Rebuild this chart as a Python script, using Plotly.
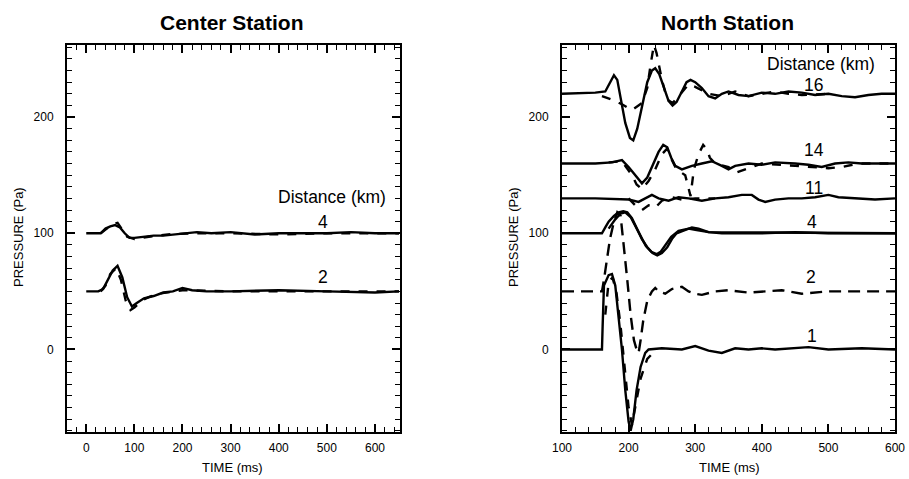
import plotly.graph_objects as go

# ---------------- data ----------------
# Center station
c4_t = [0, 30, 40, 50, 60, 70, 80, 90, 100, 120, 140, 160, 180, 200, 230, 260, 300, 350, 400, 450, 500, 550, 600, 650]
c4_v = [100, 100, 104, 106, 107, 105, 100, 96, 96, 97, 98, 98, 99, 100, 101, 100, 101, 99, 100, 100, 100, 101, 100, 100]
c4b_t = [30, 45, 55, 65, 75, 85, 100, 130, 170, 220, 300, 400, 500, 650]
c4b_v = [100, 105, 108, 109, 103, 97, 95, 97, 99, 100, 100, 99, 100, 100]

c2_t = [0, 25, 35, 45, 55, 65, 75, 85, 95, 105, 120, 140, 160, 180, 200, 220, 250, 300, 400, 500, 600, 650]
c2_v = [50, 50, 52, 60, 68, 72, 62, 45, 37, 40, 44, 46, 49, 50, 53, 51, 50, 50, 51, 50, 49, 50]
c2b_t = [30, 40, 50, 62, 72, 82, 92, 100, 115, 130, 150, 200, 300, 450, 650]
c2b_v = [50, 55, 65, 70, 60, 42, 34, 36, 42, 45, 48, 51, 50, 50, 50]

# North station
n1_t = [100, 160, 161, 163, 170, 175, 180, 185, 190, 195, 200, 203, 207, 212, 218, 225, 230, 250, 280, 300, 320, 340, 360, 380, 400, 420, 450, 470, 500, 550, 600]
n1_v = [0, 0, 20, 55, 64, 65, 55, 30, 0, -35, -62, -70, -60, -35, -15, -3, 0, 1, 0, 3, -1, -3, 1, 0, 1, 0, 1, 2, 0, 1, 0]
n1b_t = [165, 170, 176, 182, 188, 195, 200, 205, 210, 218, 228, 235]
n1b_v = [30, 58, 62, 48, 20, -20, -50, -65, -50, -25, -8, -4]

n2_t = [100, 160, 163, 168, 172, 178, 183, 188, 193, 198, 203, 208, 212, 215, 218, 222, 228, 235, 240, 245, 255, 265, 280, 290, 300, 310, 330, 350, 380, 400, 430, 460, 500, 550, 600]
n2_v = [50, 50, 60, 80, 95, 110, 118, 115, 90, 60, 30, 8, 0, -3, 8, 25, 42, 50, 53, 50, 48, 52, 54, 50, 48, 47, 50, 51, 49, 50, 51, 48, 50, 50, 50]

n4_t = [100, 160, 165, 170, 178, 185, 192, 198, 205, 212, 220, 228, 236, 243, 250, 258, 265, 272, 285, 295, 305, 320, 340, 400, 450, 500, 550, 600]
n4_v = [100, 100, 105, 110, 115, 118, 119, 118, 113, 104, 95, 88, 83, 81, 83, 88, 95, 100, 103, 105, 104, 101, 100, 100, 101, 100, 100, 100]
n4b_t = [170, 180, 188, 195, 203, 210, 218, 226, 234, 242, 248, 256, 264, 275, 290, 300, 320, 600]
n4b_v = [104, 112, 117, 118, 114, 106, 97, 89, 84, 82, 84, 90, 97, 102, 104, 103, 101, 100]

n11_t = [100, 150, 200, 215, 225, 235, 245, 260, 275, 290, 310, 330, 350, 370, 385, 395, 405, 420, 440, 460, 480, 500, 515, 540, 570, 600]
n11_v = [130, 130, 129, 127, 130, 133, 130, 128, 131, 130, 128, 130, 131, 133, 133, 129, 127, 129, 130, 130, 131, 133, 131, 130, 129, 130]
n11b_t = [200, 210, 220, 230, 240, 250, 265, 280, 300, 330]
n11b_v = [130, 124, 120, 124, 122, 128, 131, 129, 130, 130]

n14_t = [100, 150, 175, 190, 200, 210, 220, 228, 236, 245, 252, 258, 264, 270, 280, 295, 310, 325, 340, 350, 360, 380, 400, 420, 450, 470, 490, 510, 530, 550, 600]
n14_v = [160, 160, 161, 163, 157, 150, 143, 148, 158, 170, 176, 174, 165, 158, 155, 158, 160, 162, 158, 155, 158, 160, 159, 161, 160, 159, 157, 160, 161, 160, 160]
n14b_t = [170, 190, 205, 212, 220, 230, 240, 250, 258, 265, 272, 280, 285, 293, 298, 305, 312, 318, 322, 330, 350, 360, 400, 450, 500, 520, 545, 600]
n14b_v = [161, 162, 150, 142, 138, 145, 155, 168, 173, 163, 155, 152, 150, 132, 155, 168, 176, 172, 165, 160, 157, 152, 160, 158, 156, 157, 160, 160]

n16_t = [100, 150, 165, 172, 178, 183, 188, 195, 202, 207, 213, 220, 228, 235, 240, 246, 253, 260, 266, 272, 280, 287, 293, 300, 310, 320, 330, 340, 350, 365, 380, 400, 420, 440, 460, 480, 500, 520, 540, 560, 580, 600]
n16_v = [220, 221, 222, 230, 236, 232, 215, 195, 182, 180, 190, 210, 230, 240, 242, 237, 225, 214, 210, 213, 222, 230, 232, 230, 225, 218, 216, 220, 222, 219, 218, 221, 220, 222, 221, 219, 220, 218, 217, 219, 220, 220]
n16b_t = [160, 175, 190, 205, 220, 228, 233, 238, 242, 250, 258, 266, 275, 290, 300, 320, 340, 360, 380, 400, 420, 440, 460, 500]
n16b_v = [218, 215, 211, 206, 212, 225, 245, 262, 255, 232, 215, 212, 218, 228, 226, 220, 218, 222, 218, 220, 222, 220, 219, 220]

# labels
center_labels = [("Distance (km)", 510, 131), ("4", 491, 110), ("2", 491, 62)]
north_labels = [("Distance (km)", 489, 246), ("16", 478, 228), ("14", 478, 172),
                ("11", 478, 139), ("4", 476, 110), ("2", 474, 62), ("1", 476, 12)]

# ---------------- figure ----------------
fig = go.Figure()
BLK = "black"

def add(t, v, xa, ya, dash="solid", w=2.4):
    fig.add_trace(go.Scatter(x=t, y=v, mode="lines", xaxis=xa, yaxis=ya,
                             line=dict(color=BLK, width=w, dash=dash),
                             showlegend=False, hoverinfo="skip"))

add(c4_t, c4_v, "x", "y")
add(c4b_t, c4b_v, "x", "y", "dash")
add(c2_t, c2_v, "x", "y")
add(c2b_t, c2b_v, "x", "y", "dash")

add(n1_t, n1_v, "x2", "y2")
add(n1b_t, n1b_v, "x2", "y2", "dash")
add(n2_t, n2_v, "x2", "y2", "12px,7px")
add(n4_t, n4_v, "x2", "y2")
add(n4b_t, n4b_v, "x2", "y2")
add(n11_t, n11_v, "x2", "y2")
add(n11b_t, n11b_v, "x2", "y2", "dash")
add(n14_t, n14_v, "x2", "y2")
add(n14b_t, n14b_v, "x2", "y2", "dash")
add(n16_t, n16_v, "x2", "y2")
add(n16b_t, n16b_v, "x2", "y2", "dash")

W, H = 909, 479
def px(x):
    return x / W
def py(y):
    return 1 - y / H

FONT = "Liberation Sans, Arial, sans-serif"

def xaxis(domain, rng):
    return dict(domain=domain, range=rng, dtick=100, tick0=0, ticks="inside", ticklen=8,
                tickwidth=1.5, tickcolor=BLK, showline=True, linecolor=BLK, linewidth=2,
                mirror="allticks", showgrid=False, zeroline=False, automargin=False,
                ticklabeloverflow="allow",
                tickfont=dict(family=FONT, size=12, color=BLK), ticklabelstandoff=4,
                minor=dict(dtick=20, ticks="inside", ticklen=5, tickwidth=1.2, tickcolor=BLK))

def yaxis(anchor):
    return dict(domain=[py(432), py(45)], range=[-71, 262], anchor=anchor, dtick=100, tick0=0,
                ticks="inside", ticklen=8, tickwidth=1.5, tickcolor=BLK, showline=True,
                linecolor=BLK, linewidth=2, mirror="allticks", showgrid=False, zeroline=False,
                automargin=False, ticklabeloverflow="allow",
                tickfont=dict(family=FONT, size=12, color=BLK), ticklabelstandoff=9,
                minor=dict(dtick=10, ticks="inside", ticklen=5, tickwidth=1.2, tickcolor=BLK))

fig.update_layout(
    width=W, height=H, margin=dict(l=0, r=0, t=0, b=0, autoexpand=False),
    paper_bgcolor="white", plot_bgcolor="white",
    xaxis=dict(xaxis([px(67), px(400)], [-40, 652]), anchor="y"),
    yaxis=yaxis("x"),
    xaxis2=dict(xaxis([px(562), px(895)], [100, 600]), anchor="y2"),
    yaxis2=yaxis("x2"),
)

ann = []
for txt, x, y in center_labels:
    ann.append(dict(text=txt, x=x, y=y, xref="x", yref="y", showarrow=False,
                    xanchor="center", yanchor="middle",
                    font=dict(family=FONT, size=17.5, color=BLK)))
for txt, x, y in north_labels:
    ann.append(dict(text=txt, x=x, y=y, xref="x2", yref="y2", showarrow=False,
                    xanchor="center", yanchor="middle",
                    font=dict(family=FONT, size=17.5, color=BLK)))
# titles
for txt, xc in (("<b>Center Station</b>", 232), ("<b>North Station</b>", 727)):
    ann.append(dict(text=txt, x=px(xc), y=py(23), xref="paper", yref="paper",
                    xanchor="center", yanchor="middle", showarrow=False,
                    font=dict(family=FONT, size=21, color=BLK)))
# axis titles
for xc in (233, 729):
    ann.append(dict(text="TIME (ms)", x=px(xc), y=py(467), xref="paper", yref="paper",
                    xanchor="center", yanchor="middle", showarrow=False,
                    font=dict(family=FONT, size=13, color=BLK)))
for xc in (18, 513):
    ann.append(dict(text="PRESSURE (Pa)", x=px(xc), y=py(237), xref="paper", yref="paper",
                    xanchor="center", yanchor="middle", showarrow=False, textangle=-90,
                    font=dict(family=FONT, size=13, color=BLK)))
fig.update_layout(annotations=ann)

# remove the browser's default 8px page margin so the figure fills the window
fig.write_html("out.html", config={"displayModeBar": False},
               post_script="document.body.style.margin='0';document.body.style.overflow='hidden';")
